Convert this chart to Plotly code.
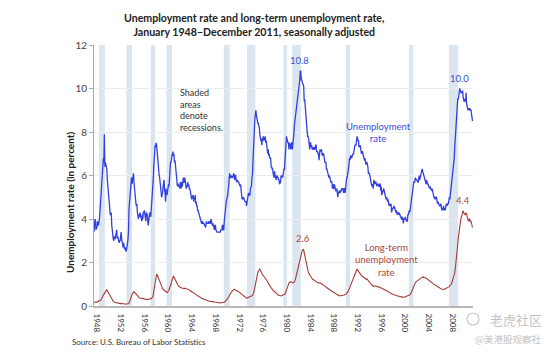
import pandas as pd
import plotly.graph_objects as go

# ---------------- data ----------------
years = list(range(1948, 2012))

unemployment_rate = [
    3.4, 3.8, 4.0, 3.9, 3.5, 3.6, 3.6, 3.9, 3.8, 3.7, 3.8, 4.0,   # 1948
    4.3, 4.7, 5.0, 5.3, 6.1, 6.2, 6.7, 6.8, 6.6, 7.9, 6.4, 6.6,   # 1949
    6.5, 6.4, 6.3, 5.8, 5.5, 5.4, 5.0, 4.5, 4.4, 4.2, 4.2, 4.3,   # 1950
    3.7, 3.4, 3.4, 3.1, 3.0, 3.2, 3.1, 3.1, 3.3, 3.5, 3.5, 3.1,   # 1951
    3.2, 3.1, 2.9, 2.9, 3.0, 3.0, 3.2, 3.4, 3.1, 3.0, 2.8, 2.7,   # 1952
    2.9, 2.6, 2.6, 2.7, 2.5, 2.5, 2.6, 2.7, 2.9, 3.1, 3.5, 4.5,   # 1953
    4.9, 5.2, 5.7, 5.9, 5.9, 5.6, 5.8, 6.0, 6.1, 5.7, 5.3, 5.0,   # 1954
    4.9, 4.7, 4.6, 4.7, 4.3, 4.2, 4.0, 4.2, 4.1, 4.3, 4.2, 4.2,   # 1955
    4.0, 3.9, 4.2, 4.0, 4.3, 4.3, 4.4, 4.1, 3.9, 3.9, 4.3, 4.2,   # 1956
    4.2, 3.9, 3.7, 3.9, 4.1, 4.3, 4.2, 4.1, 4.4, 4.5, 5.1, 5.2,   # 1957
    5.8, 6.4, 6.7, 7.4, 7.4, 7.3, 7.5, 7.4, 7.1, 6.7, 6.2, 6.2,   # 1958
    6.0, 5.9, 5.6, 5.2, 5.1, 5.0, 5.1, 5.2, 5.5, 5.7, 5.8, 5.3,   # 1959
    5.2, 4.8, 5.4, 5.2, 5.1, 5.4, 5.5, 5.6, 5.5, 6.1, 6.1, 6.6,   # 1960
    6.6, 6.9, 6.9, 7.0, 7.1, 6.9, 7.0, 6.6, 6.7, 6.5, 6.1, 6.0,   # 1961
    5.8, 5.5, 5.6, 5.6, 5.5, 5.5, 5.4, 5.7, 5.6, 5.4, 5.7, 5.5,   # 1962
    5.7, 5.9, 5.7, 5.7, 5.9, 5.6, 5.6, 5.4, 5.5, 5.5, 5.7, 5.5,   # 1963
    5.6, 5.4, 5.4, 5.3, 5.1, 5.2, 4.9, 5.0, 5.1, 5.1, 4.8, 5.0,   # 1964
    4.9, 5.1, 4.7, 4.8, 4.6, 4.6, 4.4, 4.4, 4.3, 4.2, 4.1, 4.0,   # 1965
    4.0, 3.8, 3.8, 3.8, 3.9, 3.8, 3.8, 3.8, 3.7, 3.7, 3.6, 3.8,   # 1966
    3.9, 3.8, 3.8, 3.8, 3.8, 3.9, 3.8, 3.8, 3.8, 4.0, 3.9, 3.8,   # 1967
    3.7, 3.8, 3.7, 3.5, 3.5, 3.7, 3.7, 3.5, 3.4, 3.4, 3.4, 3.4,   # 1968
    3.4, 3.4, 3.4, 3.4, 3.4, 3.5, 3.5, 3.5, 3.7, 3.7, 3.5, 3.5,   # 1969
    3.9, 4.2, 4.4, 4.6, 4.8, 4.9, 5.0, 5.1, 5.4, 5.5, 5.9, 6.1,   # 1970
    5.9, 5.9, 6.0, 5.9, 5.9, 5.9, 6.0, 6.1, 6.0, 5.8, 6.0, 6.0,   # 1971
    5.8, 5.7, 5.8, 5.7, 5.7, 5.7, 5.6, 5.6, 5.5, 5.6, 5.3, 5.2,   # 1972
    4.9, 5.0, 4.9, 5.0, 4.9, 4.9, 4.8, 4.8, 4.8, 4.6, 4.8, 4.9,   # 1973
    5.1, 5.2, 5.1, 5.1, 5.1, 5.4, 5.5, 5.5, 5.9, 6.0, 6.6, 7.2,   # 1974
    8.1, 8.1, 8.6, 8.8, 9.0, 8.8, 8.6, 8.4, 8.4, 8.4, 8.3, 8.2,   # 1975
    7.9, 7.7, 7.6, 7.7, 7.4, 7.6, 7.8, 7.8, 7.6, 7.7, 7.8, 7.8,   # 1976
    7.5, 7.6, 7.4, 7.2, 7.0, 7.2, 6.9, 7.0, 6.8, 6.8, 6.8, 6.4,   # 1977
    6.4, 6.3, 6.3, 6.1, 6.0, 5.9, 6.2, 5.9, 6.0, 5.8, 5.9, 6.0,   # 1978
    5.9, 5.9, 5.8, 5.8, 5.6, 5.7, 5.7, 6.0, 5.9, 6.0, 5.9, 6.0,   # 1979
    6.3, 6.3, 6.3, 6.9, 7.5, 7.6, 7.8, 7.7, 7.5, 7.5, 7.5, 7.2,   # 1980
    7.5, 7.4, 7.4, 7.2, 7.5, 7.5, 7.2, 7.4, 7.6, 7.9, 8.3, 8.5,   # 1981
    8.6, 8.9, 9.0, 9.3, 9.4, 9.6, 9.8, 9.8, 10.1, 10.4, 10.8, 10.8,  # 1982
    10.4, 10.4, 10.3, 10.2, 10.1, 10.1, 9.4, 9.5, 9.2, 8.8, 8.5, 8.3,  # 1983
    8.0, 7.8, 7.8, 7.7, 7.4, 7.2, 7.5, 7.5, 7.3, 7.4, 7.2, 7.3,   # 1984
    7.3, 7.2, 7.2, 7.3, 7.2, 7.4, 7.4, 7.1, 7.1, 7.1, 7.0, 7.0,   # 1985
    6.7, 7.2, 7.2, 7.1, 7.2, 7.2, 7.0, 6.9, 7.0, 7.0, 6.9, 6.6,   # 1986
    6.6, 6.6, 6.6, 6.3, 6.3, 6.2, 6.1, 6.0, 5.9, 6.0, 5.8, 5.7,   # 1987
    5.7, 5.7, 5.7, 5.4, 5.6, 5.4, 5.4, 5.6, 5.4, 5.4, 5.3, 5.3,   # 1988
    5.4, 5.2, 5.0, 5.2, 5.2, 5.3, 5.2, 5.2, 5.3, 5.3, 5.4, 5.4,   # 1989
    5.4, 5.3, 5.2, 5.4, 5.4, 5.2, 5.5, 5.7, 5.9, 5.9, 6.2, 6.3,   # 1990
    6.4, 6.6, 6.8, 6.7, 6.9, 6.9, 6.8, 6.9, 6.9, 7.0, 7.0, 7.3,   # 1991
    7.3, 7.4, 7.4, 7.4, 7.6, 7.8, 7.7, 7.6, 7.6, 7.3, 7.4, 7.4,   # 1992
    7.3, 7.1, 7.0, 7.1, 7.1, 7.0, 6.9, 6.8, 6.7, 6.8, 6.6, 6.5,   # 1993
    6.6, 6.6, 6.5, 6.4, 6.1, 6.1, 6.1, 6.0, 5.9, 5.8, 5.6, 5.5,   # 1994
    5.6, 5.4, 5.4, 5.8, 5.6, 5.6, 5.7, 5.7, 5.6, 5.5, 5.6, 5.6,   # 1995
    5.6, 5.5, 5.5, 5.6, 5.6, 5.3, 5.5, 5.1, 5.2, 5.2, 5.4, 5.4,   # 1996
    5.3, 5.2, 5.2, 5.1, 4.9, 5.0, 4.9, 4.8, 4.9, 4.7, 4.6, 4.7,   # 1997
    4.6, 4.6, 4.7, 4.3, 4.4, 4.5, 4.5, 4.5, 4.6, 4.5, 4.4, 4.4,   # 1998
    4.3, 4.4, 4.2, 4.3, 4.2, 4.3, 4.3, 4.2, 4.2, 4.1, 4.1, 4.0,   # 1999
    4.0, 4.1, 4.0, 3.8, 4.0, 4.0, 4.0, 4.1, 3.9, 3.9, 3.9, 3.9,   # 2000
    4.2, 4.2, 4.3, 4.4, 4.3, 4.5, 4.6, 4.9, 5.0, 5.3, 5.5, 5.7,   # 2001
    5.7, 5.7, 5.7, 5.9, 5.8, 5.8, 5.8, 5.7, 5.7, 5.7, 5.9, 6.0,   # 2002
    5.8, 5.9, 5.9, 6.0, 6.1, 6.3, 6.2, 6.1, 6.1, 6.0, 5.8, 5.7,   # 2003
    5.7, 5.6, 5.8, 5.6, 5.6, 5.6, 5.5, 5.4, 5.4, 5.5, 5.4, 5.4,   # 2004
    5.3, 5.4, 5.2, 5.2, 5.1, 5.0, 5.0, 4.9, 5.0, 5.0, 5.0, 4.9,   # 2005
    4.7, 4.8, 4.7, 4.7, 4.6, 4.6, 4.7, 4.7, 4.5, 4.4, 4.5, 4.4,   # 2006
    4.6, 4.5, 4.4, 4.5, 4.4, 4.6, 4.7, 4.6, 4.7, 4.7, 4.7, 5.0,   # 2007
    5.0, 4.9, 5.1, 5.0, 5.4, 5.6, 5.8, 6.1, 6.1, 6.5, 6.8, 7.3,   # 2008
    7.8, 8.3, 8.7, 9.0, 9.4, 9.5, 9.5, 9.6, 9.8, 10.0, 9.9, 9.9,  # 2009
    9.8, 9.8, 9.9, 9.9, 9.6, 9.4, 9.4, 9.5, 9.5, 9.4, 9.8, 9.3,   # 2010
    9.1, 9.0, 9.0, 9.1, 9.0, 9.1, 9.0, 9.0, 9.0, 8.8, 8.6, 8.5,   # 2011
]

long_term_rate = [
    0.17, 0.18, 0.19, 0.20, 0.18, 0.17, 0.18, 0.20, 0.20, 0.19, 0.21, 0.22,  # 1948
    0.24, 0.26, 0.28, 0.31, 0.35, 0.40, 0.45, 0.50, 0.54, 0.58, 0.63, 0.67,  # 1949
    0.72, 0.75, 0.74, 0.70, 0.66, 0.62, 0.56, 0.50, 0.45, 0.40, 0.36, 0.33,  # 1950
    0.30, 0.27, 0.24, 0.22, 0.20, 0.18, 0.17, 0.16, 0.15, 0.16, 0.15, 0.14,  # 1951
    0.14, 0.13, 0.13, 0.12, 0.12, 0.11, 0.12, 0.12, 0.11, 0.10, 0.10, 0.10,  # 1952
    0.10, 0.09, 0.09, 0.09, 0.08, 0.08, 0.09, 0.09, 0.10, 0.10, 0.11, 0.13,  # 1953
    0.18, 0.24, 0.30, 0.38, 0.45, 0.52, 0.57, 0.62, 0.65, 0.66, 0.64, 0.61,  # 1954
    0.60, 0.58, 0.55, 0.52, 0.48, 0.44, 0.42, 0.40, 0.38, 0.37, 0.36, 0.35,  # 1955
    0.34, 0.33, 0.33, 0.34, 0.35, 0.33, 0.33, 0.32, 0.31, 0.30, 0.31, 0.30,  # 1956
    0.31, 0.30, 0.31, 0.32, 0.32, 0.33, 0.33, 0.32, 0.34, 0.36, 0.38, 0.42,  # 1957
    0.52, 0.65, 0.80, 0.98, 1.15, 1.30, 1.42, 1.47, 1.44, 1.38, 1.30, 1.25,  # 1958
    1.20, 1.12, 1.05, 0.98, 0.92, 0.88, 0.83, 0.80, 0.77, 0.75, 0.76, 0.74,  # 1959
    0.72, 0.68, 0.66, 0.64, 0.62, 0.64, 0.66, 0.70, 0.75, 0.80, 0.86, 0.92,  # 1960
    1.00, 1.10, 1.20, 1.28, 1.35, 1.38, 1.33, 1.28, 1.22, 1.16, 1.10, 1.05,  # 1961
    1.00, 0.98, 0.95, 0.92, 0.90, 0.88, 0.86, 0.87, 0.85, 0.84, 0.83, 0.82,  # 1962
    0.84, 0.83, 0.82, 0.80, 0.82, 0.80, 0.80, 0.79, 0.78, 0.78, 0.77, 0.78,  # 1963
    0.76, 0.74, 0.73, 0.70, 0.68, 0.67, 0.66, 0.64, 0.63, 0.61, 0.60, 0.59,  # 1964
    0.58, 0.56, 0.54, 0.52, 0.50, 0.49, 0.47, 0.46, 0.45, 0.44, 0.42, 0.41,  # 1965
    0.40, 0.38, 0.36, 0.35, 0.33, 0.32, 0.31, 0.30, 0.29, 0.28, 0.27, 0.27,  # 1966
    0.26, 0.25, 0.24, 0.24, 0.23, 0.23, 0.22, 0.22, 0.22, 0.21, 0.21, 0.20,  # 1967
    0.20, 0.20, 0.19, 0.19, 0.18, 0.18, 0.18, 0.17, 0.17, 0.17, 0.16, 0.16,  # 1968
    0.16, 0.15, 0.15, 0.14, 0.14, 0.14, 0.14, 0.15, 0.15, 0.15, 0.16, 0.16,  # 1969
    0.17, 0.19, 0.21, 0.23, 0.26, 0.29, 0.32, 0.35, 0.39, 0.42, 0.46, 0.50,  # 1970
    0.54, 0.58, 0.62, 0.66, 0.69, 0.72, 0.74, 0.76, 0.77, 0.76, 0.75, 0.74,  # 1971
    0.74, 0.73, 0.71, 0.70, 0.68, 0.66, 0.64, 0.62, 0.60, 0.58, 0.56, 0.53,  # 1972
    0.50, 0.48, 0.46, 0.44, 0.42, 0.40, 0.38, 0.37, 0.37, 0.36, 0.37, 0.38,  # 1973
    0.38, 0.39, 0.40, 0.40, 0.41, 0.42, 0.43, 0.45, 0.46, 0.48, 0.52, 0.56,  # 1974
    0.65, 0.75, 0.88, 1.00, 1.12, 1.25, 1.38, 1.48, 1.55, 1.60, 1.64, 1.68,  # 1975
    1.70, 1.66, 1.60, 1.55, 1.50, 1.45, 1.42, 1.40, 1.37, 1.35, 1.32, 1.30,  # 1976
    1.28, 1.24, 1.20, 1.15, 1.10, 1.05, 1.02, 0.98, 0.95, 0.92, 0.88, 0.84,  # 1977
    0.80, 0.78, 0.75, 0.72, 0.70, 0.68, 0.65, 0.63, 0.60, 0.58, 0.56, 0.54,  # 1978
    0.52, 0.50, 0.49, 0.48, 0.47, 0.47, 0.46, 0.46, 0.47, 0.48, 0.48, 0.50,  # 1979
    0.50, 0.51, 0.52, 0.55, 0.60, 0.68, 0.76, 0.84, 0.92, 0.98, 1.02, 1.05,  # 1980
    1.08, 1.10, 1.12, 1.12, 1.10, 1.08, 1.06, 1.05, 1.06, 1.08, 1.10, 1.15,  # 1981
    1.22, 1.30, 1.38, 1.45, 1.55, 1.65, 1.78, 1.90, 2.00, 2.12, 2.25, 2.38,  # 1982
    2.45, 2.50, 2.55, 2.58, 2.60, 2.56, 2.45, 2.30, 2.15, 2.00, 1.90, 1.80,  # 1983
    1.72, 1.65, 1.58, 1.52, 1.48, 1.42, 1.38, 1.34, 1.30, 1.28, 1.25, 1.22,  # 1984
    1.22, 1.20, 1.18, 1.16, 1.15, 1.14, 1.12, 1.10, 1.10, 1.08, 1.08, 1.06,  # 1985
    1.06, 1.05, 1.06, 1.05, 1.04, 1.02, 1.00, 0.98, 0.97, 0.96, 0.95, 0.93,  # 1986
    0.92, 0.90, 0.88, 0.86, 0.84, 0.82, 0.80, 0.78, 0.77, 0.75, 0.74, 0.72,  # 1987
    0.72, 0.70, 0.68, 0.67, 0.65, 0.64, 0.62, 0.60, 0.58, 0.57, 0.56, 0.55,  # 1988
    0.54, 0.52, 0.50, 0.49, 0.48, 0.47, 0.47, 0.46, 0.46, 0.47, 0.48, 0.48,  # 1989
    0.49, 0.49, 0.50, 0.51, 0.52, 0.52, 0.54, 0.56, 0.58, 0.60, 0.63, 0.67,  # 1990
    0.72, 0.78, 0.84, 0.90, 0.96, 1.02, 1.08, 1.14, 1.20, 1.26, 1.32, 1.40,  # 1991
    1.48, 1.55, 1.60, 1.64, 1.68, 1.70, 1.66, 1.62, 1.58, 1.55, 1.52, 1.50,  # 1992
    1.46, 1.44, 1.40, 1.38, 1.36, 1.34, 1.32, 1.30, 1.28, 1.26, 1.24, 1.22,  # 1993
    1.22, 1.25, 1.22, 1.18, 1.15, 1.12, 1.08, 1.05, 1.02, 1.00, 0.98, 0.96,  # 1994
    0.95, 0.92, 0.90, 0.92, 0.90, 0.92, 0.93, 0.92, 0.90, 0.88, 0.88, 0.87,  # 1995
    0.87, 0.88, 0.86, 0.88, 0.86, 0.84, 0.83, 0.82, 0.80, 0.80, 0.79, 0.78,  # 1996
    0.78, 0.77, 0.76, 0.75, 0.72, 0.70, 0.69, 0.68, 0.66, 0.64, 0.62, 0.61,  # 1997
    0.60, 0.59, 0.57, 0.56, 0.55, 0.54, 0.52, 0.52, 0.51, 0.50, 0.49, 0.48,  # 1998
    0.48, 0.47, 0.47, 0.46, 0.46, 0.45, 0.45, 0.44, 0.44, 0.44, 0.43, 0.43,  # 1999
    0.42, 0.41, 0.41, 0.40, 0.41, 0.40, 0.41, 0.42, 0.42, 0.43, 0.43, 0.44,  # 2000
    0.45, 0.46, 0.47, 0.48, 0.50, 0.53, 0.56, 0.60, 0.64, 0.70, 0.78, 0.85,  # 2001
    0.92, 0.98, 1.02, 1.06, 1.10, 1.12, 1.14, 1.15, 1.18, 1.20, 1.22, 1.24,  # 2002
    1.25, 1.26, 1.27, 1.30, 1.33, 1.35, 1.34, 1.32, 1.33, 1.30, 1.28, 1.30,  # 2003
    1.30, 1.28, 1.25, 1.24, 1.22, 1.20, 1.18, 1.16, 1.14, 1.12, 1.10, 1.08,  # 2004
    1.07, 1.06, 1.05, 1.03, 1.01, 0.99, 0.97, 0.96, 0.95, 0.94, 0.93, 0.92,  # 2005
    0.90, 0.88, 0.87, 0.86, 0.84, 0.82, 0.80, 0.79, 0.78, 0.77, 0.77, 0.76,  # 2006
    0.76, 0.77, 0.76, 0.78, 0.79, 0.80, 0.81, 0.82, 0.82, 0.84, 0.85, 0.88,  # 2007
    0.90, 0.92, 0.94, 0.96, 1.00, 1.06, 1.12, 1.18, 1.25, 1.33, 1.42, 1.52,  # 2008
    1.70, 1.88, 2.05, 2.25, 2.48, 2.82, 3.10, 3.30, 3.45, 3.65, 3.80, 3.95,  # 2009
    4.08, 4.12, 4.20, 4.35, 4.38, 4.30, 4.25, 4.20, 4.18, 4.25, 4.28, 4.22,  # 2010
    4.05, 3.98, 3.95, 3.90, 4.00, 4.02, 3.90, 3.88, 3.92, 3.82, 3.70, 3.60,  # 2011
]

recession_starts = ["1948-11", "1953-07", "1957-08", "1960-04", "1969-12", "1973-11",
                    "1980-01", "1981-07", "1990-07", "2001-03", "2007-12"]
recession_ends = ["1949-10", "1954-05", "1958-04", "1961-02", "1970-11", "1975-03",
                  "1980-07", "1982-11", "1991-03", "2001-11", "2009-06"]

tick_years = list(range(1948, 2012, 4))
tick_labels = [str(y) for y in tick_years]

# ---------------- figure ----------------
months = pd.date_range("1948-01-01", periods=len(unemployment_rate), freq="MS")

BLUE = "#3240e0"
RED = "#a33c36"
FONT = "Lato"

fig = go.Figure()

for s, e in zip(recession_starts, recession_ends):
    fig.add_shape(type="rect", xref="x", yref="paper",
                  x0=s + "-01", x1=(pd.Timestamp(e + "-01") + pd.offsets.MonthBegin(1)).strftime("%Y-%m-%d"),
                  y0=0, y1=1, fillcolor="#dbe5ef", line_width=0, layer="below")

fig.add_trace(go.Scatter(x=months, y=unemployment_rate, mode="lines",
                         line=dict(color=BLUE, width=1.3), name="Unemployment rate"))
fig.add_trace(go.Scatter(x=months, y=long_term_rate, mode="lines",
                         line=dict(color=RED, width=1.1), name="Long-term unemployment rate"))

def px2paper(px, py):
    return (px - 94) / 379.0, (306 - py) / 261.0

annotations = []

def add_text(px, py, text, size, color, family=FONT, xanchor="center", align="center", angle=0):
    x, y = px2paper(px, py)
    annotations.append(dict(x=x, y=y, xref="paper", yref="paper", showarrow=False,
                            xanchor=xanchor, yanchor="middle", align=align, textangle=angle,
                            text=text, font=dict(family=family, size=size, color=color)))

# peak labels
for date, val, txt, col in [("1982-10-01", 10.8, "10.8", "#3a4ed4"),
                            ("2009-10-01", 10.0, "10.0", "#3a4ed4"),
                            ("1983-05-01", 2.60, "2.6", "#a8483f"),
                            ("2010-04-01", 4.38, "4.4", "#a8483f")]:
    annotations.append(dict(x=date, y=val, xref="x", yref="y", text=txt, showarrow=False,
                            xanchor="center", yanchor="bottom", yshift=3,
                            font=dict(family=FONT, size=9.5, color=col)))

add_text(178, 110, "Shaded<br>areas<br>denote<br>recessions.", 9, "#333333",
         xanchor="left", align="left")
add_text(378, 132, "Unemployment<br>rate", 9.5, "#3a4ed4")
add_text(386, 260, "Long-term<br>unemployment<br>rate", 9.5, "#a8483f")
add_text(70, 203, "<b>Unemployment rate (in percent)</b>", 10, "#222222", angle=-90)
add_text(70, 342, "Source: U.S. Bureau of Labor Statistics", 8, "#333333",
         xanchor="left", align="left")
add_text(254, 25, "<b>Unemployment rate and long-term unemployment rate,<br>"
                  "January 1948\u2013December 2011, seasonally adjusted</b>", 10.6, "#222222")
# watermark
add_text(516, 319, "老虎社区", 13, "#c4c4c4", family="Noto Sans CJK SC")
add_text(508, 339, "@美港股观察社", 9.5, "#c4c4c4", family="Noto Sans CJK SC")

x0, y0 = px2paper(467, 313)
x1, y1 = px2paper(479, 325)
fig.add_shape(type="circle", xref="paper", yref="paper", x0=x0, x1=x1, y0=y1, y1=y0,
              line=dict(color="#c8c8c8", width=1.2))

fig.update_layout(
    width=554, height=352,
    margin=dict(l=94, r=81, t=45, b=46),
    paper_bgcolor="white", plot_bgcolor="white",
    showlegend=False,
    annotations=annotations,
    font=dict(family=FONT, color="#404040"),
)
fig.update_xaxes(type="date", range=["1948-01-01", "2012-01-01"],
                 tickvals=[f"{y}-01-01" for y in tick_years], ticktext=tick_labels,
                 tickangle=90, tickfont=dict(size=8, color="#333333"),
                 ticklabelshift=3, ticklabelstandoff=4,
                 showgrid=False, zeroline=False, showline=True,
                 linecolor="#b8b8b8", linewidth=2, ticks="")
fig.update_yaxes(range=[0, 12], dtick=2, tickfont=dict(size=10, color="#444444"),
                 showgrid=True, gridcolor="#ececec", zeroline=False,
                 showline=True, linecolor="#a8a8a8", linewidth=1,
                 ticks="outside", ticklen=4, tickcolor="#a8a8a8")

fig.write_html("out.html")
